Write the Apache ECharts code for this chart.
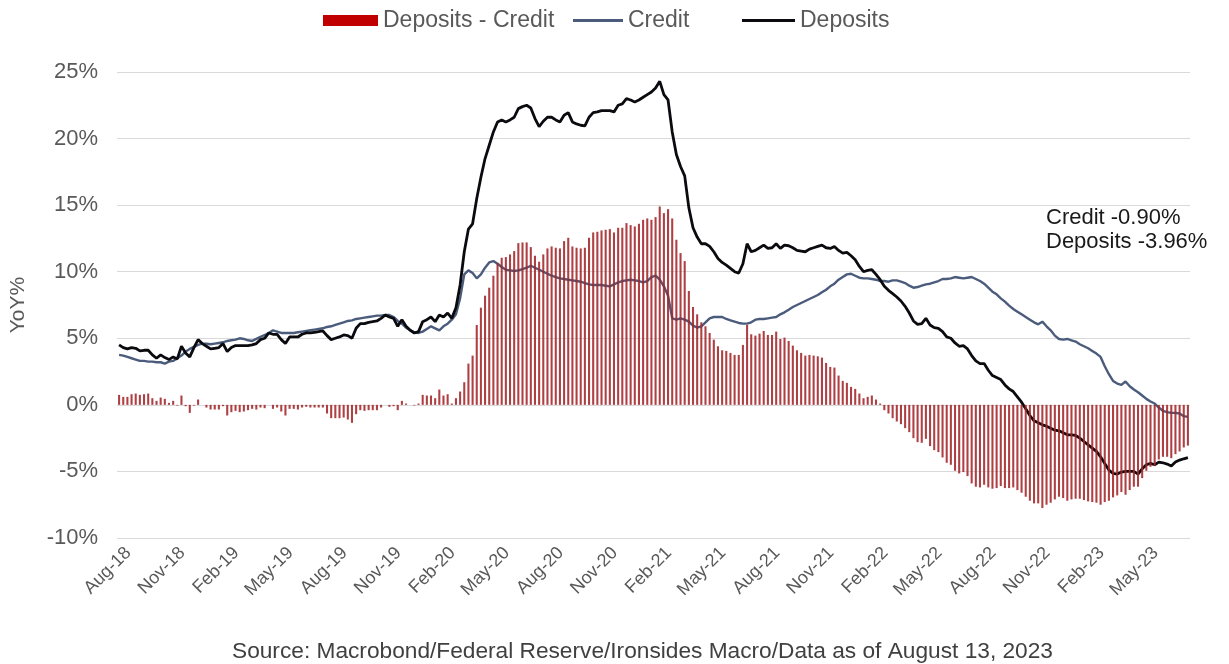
<!DOCTYPE html>
<html>
<head>
<meta charset="utf-8">
<script src="https://cdn.jsdelivr.net/npm/echarts@6/dist/echarts.min.js"></script>
<style>
html,body{margin:0;padding:0;background:#fff;}
#chart{width:1229px;height:664px;}
</style>
</head>
<body>
<div id="chart"></div>
<script>
// Weekly YoY % (weeks starting 2018-08-29)
const deposits = [
4.5,4.3,4.2,4.3,4.25,4.05,4.1,4.1,3.75,3.5,
3.75,3.55,3.4,3.6,3.45,4.4,3.9,3.6,4.3,4.9,
4.6,4.4,4.2,4.25,4.3,4.6,4.0,4.3,4.45,4.45,
4.45,4.45,4.5,4.6,4.9,5.0,5.4,5.3,5.3,4.9,
4.6,5.1,5.1,5.1,5.3,5.4,5.4,5.45,5.5,5.55,
5.2,4.9,5.0,5.1,5.25,5.2,5.0,5.75,6.1,6.1,
6.2,6.25,6.3,6.5,6.75,6.6,6.5,5.9,6.4,5.9,
5.6,5.4,5.5,6.25,6.4,6.6,6.25,6.75,6.6,6.9,
6.5,7.3,9.0,11.5,13.2,13.6,15.5,17.1,18.5,19.5,
20.5,21.25,21.4,21.25,21.4,21.6,22.25,22.4,22.5,22.3,
21.5,20.9,21.3,21.6,21.6,21.4,21.25,21.75,21.95,21.25,
21.1,21.0,20.95,21.6,21.95,22.0,22.1,22.1,22.1,22.0,
22.5,22.6,23.0,22.9,22.75,22.9,23.1,23.3,23.5,23.8,
24.3,23.3,22.9,20.5,18.8,17.9,17.2,14.8,13.3,12.6,
12.1,12.1,11.9,11.5,11.0,10.7,10.5,10.25,10.0,9.9,
10.6,12.1,11.5,11.6,11.8,12.0,11.75,11.8,12.1,11.75,
12.0,11.95,11.8,11.6,11.55,11.5,11.7,11.8,11.9,12.0,
11.8,11.75,11.9,11.6,11.4,11.45,11.2,10.9,10.4,10.0,
10.1,10.15,9.8,9.4,8.9,8.6,8.35,8.1,7.8,7.4,
6.9,6.3,6.05,6.1,6.5,6.0,5.8,5.75,5.5,5.1,
5.0,4.65,4.4,4.45,4.2,3.7,3.3,3.1,3.1,2.6,
2.2,2.05,1.9,1.5,1.2,1.0,0.6,0.2,-0.3,-0.8,
-1.2,-1.35,-1.5,-1.6,-1.75,-1.9,-1.95,-2.1,-2.25,-2.25,
-2.3,-2.5,-2.75,-3.0,-3.25,-3.5,-3.9,-4.4,-4.9,-5.15,
-5.2,-5.05,-5.0,-5.0,-5.0,-5.2,-4.8,-4.5,-4.4,-4.5,
-4.3,-4.35,-4.45,-4.6,-4.3,-4.15,-4.05,-3.96
];
const credit = [
3.75,3.7,3.6,3.5,3.4,3.3,3.3,3.25,3.25,3.2,
3.2,3.1,3.25,3.3,3.5,3.7,4.0,4.2,4.35,4.5,
4.6,4.6,4.55,4.6,4.65,4.7,4.8,4.85,4.9,5.0,
4.95,4.85,4.8,4.95,5.1,5.25,5.4,5.6,5.5,5.4,
5.4,5.4,5.4,5.45,5.5,5.55,5.6,5.65,5.7,5.75,
5.85,5.9,6.0,6.1,6.2,6.3,6.35,6.45,6.5,6.55,
6.6,6.65,6.7,6.7,6.75,6.75,6.6,6.3,6.1,5.8,
5.6,5.45,5.4,5.5,5.7,5.9,5.75,5.6,5.9,6.1,
6.4,6.8,8.0,9.8,10.1,9.9,9.5,9.8,10.3,10.7,
10.8,10.6,10.35,10.15,10.1,10.05,10.1,10.2,10.3,10.45,
10.3,10.15,10.0,9.85,9.7,9.6,9.5,9.45,9.4,9.35,
9.3,9.25,9.15,9.05,9.0,9.0,9.0,8.95,8.9,9.05,
9.2,9.3,9.35,9.4,9.35,9.3,9.2,9.3,9.6,9.7,
9.4,8.9,8.2,6.5,6.4,6.5,6.4,6.25,5.95,5.8,
5.9,6.2,6.5,6.6,6.6,6.6,6.45,6.35,6.25,6.15,
6.1,6.1,6.2,6.4,6.45,6.45,6.5,6.55,6.6,6.8,
6.95,7.15,7.35,7.5,7.65,7.8,7.95,8.1,8.25,8.45,
8.65,8.9,9.1,9.4,9.6,9.8,9.85,9.7,9.55,9.5,
9.5,9.45,9.4,9.3,9.3,9.25,9.35,9.35,9.25,9.15,
8.95,8.8,8.85,8.95,9.05,9.1,9.2,9.3,9.45,9.45,
9.5,9.6,9.55,9.5,9.55,9.6,9.45,9.3,9.1,8.8,
8.5,8.3,8.0,7.75,7.45,7.2,7.0,6.8,6.6,6.4,
6.2,6.05,6.25,5.9,5.6,5.2,4.95,4.9,4.95,4.85,
4.75,4.55,4.4,4.25,4.05,3.85,3.6,2.9,2.3,1.8,
1.6,1.5,1.75,1.4,1.15,0.95,0.7,0.45,0.25,0.1,
-0.2,-0.45,-0.55,-0.6,-0.6,-0.65,-0.85,-0.9
];
const tickLabels = ['Aug-18','Nov-18','Feb-19','May-19','Aug-19','Nov-19','Feb-20','May-20','Aug-20','Nov-20',
'Feb-21','May-21','Aug-21','Nov-21','Feb-22','May-22','Aug-22','Nov-22','Feb-23','May-23'];
const yTicks = [-10,-5,0,5,10,15,20,25];
const startDate = '2018-08-29';
const weeksPerTick = 13;

const start = new Date(startDate + 'T00:00:00Z').getTime();
const categories = deposits.map((_, i) => new Date(start + i * 7 * 86400000).toISOString().slice(0, 10));
const spread = deposits.map((d, i) => Math.round((d - credit[i]) * 100) / 100);

const FONT = '"Liberation Sans", Arial, sans-serif';
const GREY = '#595959';
const CREDIT_C = '#4A5B7B';
const DEP_C = '#0a0a0f';
const chart = echarts.init(document.getElementById('chart'), null, {renderer: 'canvas'});
const last = deposits.length - 1;

const legendText = {color: GREY, fontSize: 23, fontFamily: FONT};
chart.setOption({
  animation: false,
  backgroundColor: '#ffffff',
  textStyle: {fontFamily: FONT},
  grid: {left: 115, right: 39, top: 72, bottom: 126, containLabel: false},
  legend: [
    {left: 323, top: 9, padding: 0, itemWidth: 55, itemHeight: 11, itemGap: 0, selectedMode: false,
     textStyle: legendText,
     data: [{name: 'Deposits - Credit', icon: 'rect', itemStyle: {color: '#C00000', opacity: 1}}]},
    {left: 573, top: 9, padding: 0, itemWidth: 50, itemHeight: 3, itemGap: 0, selectedMode: false,
     textStyle: legendText,
     data: [{name: 'Credit', icon: 'rect', itemStyle: {color: CREDIT_C}}]},
    {left: 742, top: 9, padding: 0, itemWidth: 53, itemHeight: 3, itemGap: 0, selectedMode: false,
     textStyle: legendText,
     data: [{name: 'Deposits', icon: 'rect', itemStyle: {color: DEP_C}}]}
  ],
  xAxis: {
    type: 'category',
    data: categories,
    boundaryGap: true,
    axisLine: {show: false, onZero: false},
    axisTick: {show: false},
    splitLine: {show: false},
    axisLabel: {
      rotate: 45,
      margin: 3,
      color: GREY,
      fontSize: 18,
      fontFamily: FONT,
      verticalAlign: 'top',
      padding: [4, 0, 0, 0],
      interval: (idx) => idx % weeksPerTick === 0,
      formatter: (val, idx) => tickLabels[idx / weeksPerTick] || ''
    }
  },
  yAxis: {
    type: 'value',
    min: yTicks[0],
    max: yTicks[yTicks.length - 1],
    interval: 5,
    name: 'YoY%',
    nameLocation: 'middle',
    nameGap: 88,
    nameTextStyle: {color: GREY, fontSize: 21, fontFamily: FONT},
    axisLine: {show: false},
    axisTick: {show: false},
    axisLabel: {color: GREY, fontSize: 22, fontFamily: FONT, margin: 19, formatter: (v) => v + '%'},
    splitLine: {lineStyle: {color: '#D9D9D9', width: 1}}
  },
  series: [
    {
      name: 'Credit', type: 'line', data: credit, symbol: 'none', showSymbol: false,
      lineStyle: {color: CREDIT_C, width: 2.4}, itemStyle: {color: CREDIT_C}, z: 2
    },
    {
      name: 'Deposits', type: 'line', data: deposits, symbol: 'none', showSymbol: false,
      lineStyle: {color: DEP_C, width: 2.8}, itemStyle: {color: DEP_C}, z: 2
    },
    {
      name: 'Deposits - Credit', type: 'bar', data: spread, barWidth: '50%',
      itemStyle: {color: '#A3262A', opacity: 0.88}, z: 3
    }
  ],
  graphic: [
    {type: 'text', left: 1046, top: 206,
     style: {text: 'Credit ' + credit[last].toFixed(2) + '%\nDeposits ' + deposits[last].toFixed(2) + '%',
             font: '22px ' + FONT, fill: '#1a1a1a', lineHeight: 24}},
    {type: 'text', left: 232, top: 640,
     style: {text: 'Source: Macrobond/Federal Reserve/Ironsides Macro/Data as of August 13, 2023',
             font: '22.7px ' + FONT, fill: '#404040'}}
  ]
});
</script>
</body>
</html>
